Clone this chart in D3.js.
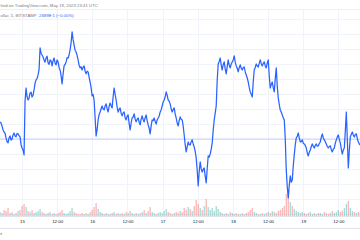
<!DOCTYPE html>
<html>
<head>
<meta charset="utf-8">
<script src="https://cdn.jsdelivr.net/npm/d3@7"></script>
<style>
  html, body { margin: 0; padding: 0; background: #fff; }
  svg { display: block; font-family: "Liberation Sans", Arial, sans-serif; }
</style>
</head>
<body>
<svg id="chart" width="360" height="240"></svg>
<script>
// BTC/USD, 5 min, BITSTAMP -- price read every 20.5 min, volume every 41 min, from May 14 16:30 UTC
var startTime = Date.UTC(2023, 4, 14, 16, 30);
var priceStepMin = 20.5;
var volumeStepMin = 41;

var prices = [
  27012, 27005, 26985, 26958, 26945, 26935, 26905, 26880, 26872, 26905, 26918, 26890, 26898, 26925, 26938, 26918, 26912, 26935, 26932, 26920,
  26912, 26860, 26838, 26825, 26792, 27150, 27238, 27180, 27158, 27170, 27205, 27210, 27178, 27190, 27225, 27270, 27292, 27300, 27325, 27360,
  27505, 27470, 27458, 27445, 27425, 27410, 27438, 27450, 27405, 27395, 27425, 27418, 27385, 27420, 27438, 27405, 27392, 27425, 27412, 27375,
  27358, 27320, 27265, 27330, 27385, 27395, 27412, 27440, 27438, 27460, 27492, 27540, 27612, 27560, 27525, 27490, 27478, 27455, 27425, 27390,
  27372, 27380, 27358, 27375, 27385, 27350, 27332, 27350, 27345, 27310, 27278, 27240, 27185, 27195, 27158, 27040, 26918, 26960, 27025, 27060,
  27078, 27100, 27118, 27098, 27092, 27118, 27132, 27100, 27078, 27115, 27138, 27120, 27105, 27180, 27238, 27195, 27158, 27110, 27078, 27095,
  27105, 27070, 27052, 27072, 27078, 27040, 27025, 27050, 27058, 27000, 26958, 27005, 27038, 27045, 27065, 27030, 27012, 27030, 27038, 27010,
  26992, 27030, 27052, 27028, 27012, 27040, 27058, 27020, 26992, 26970, 26932, 26985, 27025, 27020, 27038, 27015, 26998, 27025, 27038, 27050,
  27078, 27092, 27118, 27145, 27158, 27178, 27212, 27190, 27158, 27150, 27132, 27098, 27078, 27095, 27105, 27065, 27038, 27005, 26985, 27020,
  27045, 27030, 27025, 26985, 26925, 26860, 26812, 26845, 26878, 26860, 26858, 26880, 26892, 26865, 26845, 26815, 26772, 26690, 26585, 26680,
  26745, 26700, 26678, 26695, 26705, 26650, 26605, 26700, 26785, 26778, 26798, 26830, 26872, 26955, 27025, 27070, 27118, 27290, 27398, 27415,
  27438, 27390, 27358, 27395, 27412, 27365, 27332, 27380, 27425, 27390, 27372, 27398, 27412, 27425, 27452, 27410, 27385, 27370, 27345, 27375,
  27392, 27370, 27358, 27375, 27378, 27345, 27325, 27305, 27278, 27240, 27212, 27198, 27178, 27280, 27358, 27375, 27398, 27385, 27378, 27402,
  27425, 27400, 27385, 27402, 27412, 27385, 27372, 27405, 27425, 27320, 27238, 27262, 27278, 27240, 27212, 27300, 27372, 27250, 27172, 27128,
  27092, 27078, 27058, 27040, 27025, 26900, 26692, 26580, 26505, 26590, 26652, 26610, 26625, 26720, 26792, 26860, 26905, 26915, 26938, 26905,
  26878, 26880, 26892, 26870, 26865, 26855, 26838, 26805, 26785, 26810, 26825, 26848, 26865, 26850, 26838, 26855, 26865, 26850, 26852, 26868,
  26878, 26910, 26932, 26905, 26892, 26880, 26865, 26848, 26838, 26848, 26852, 26828, 26812, 26830, 26838, 26870, 26892, 26912, 26925, 26895,
  26872, 26830, 26798, 26825, 26838, 26950, 27078, 26900, 26705, 26820, 26912, 26930, 26945, 26925, 26912, 26928, 26932, 26900, 26878, 26865,
  26858
];

var volumes = [
  40, 30, 60, 50, 80, 30, 40, 20, 30, 50,
  60, 100, 120, 90, 50, 40, 60, 30, 40, 50,
  70, 40, 30, 20, 30, 40, 20, 30, 20, 30,
  40, 60, 30, 20, 30, 50, 80, 40, 30, 20,
  20, 30, 20, 30, 20, 40, 60, 90, 130, 70,
  40, 30, 20, 30, 20, 20, 30, 40, 20, 30,
  20, 30, 20, 40, 30, 50, 30, 20, 30, 20,
  30, 40, 60, 30, 50, 90, 40, 30, 20, 30,
  40, 30, 50, 70, 40, 30, 20, 30, 40, 30,
  50, 40, 80, 60, 90, 70, 50, 100, 160, 120,
  80, 60, 100, 170, 90, 60, 80, 50, 100, 70,
  40, 30, 20, 30, 20, 40, 30, 20, 30, 20,
  20, 30, 20, 30, 40, 60, 80, 40, 30, 20,
  20, 30, 20, 30, 40, 30, 50, 40, 30, 50,
  60, 80, 100, 220, 260, 140, 100, 70, 50, 40,
  30, 40, 30, 20, 30, 40, 20, 30, 20, 30,
  30, 20, 40, 30, 20, 30, 50, 30, 40, 60,
  40, 50, 80, 120, 150, 80, 50, 40, 30, 40,
  30
];

var tickTimes = [];
for (var d = 15; d <= 19; d++) {
  tickTimes.push(Date.UTC(2023, 4, d, 0));
  tickTimes.push(Date.UTC(2023, 4, d, 12));
}

// legend texts, as far as they show inside the cropped picture
var headerLine1 = "hed on TradingView.com, May 19, 2023 23:41 UTC";
var symbolText = "ollar, 5, BITSTAMP";
var lastText = "26898";
var changeText = "\u22121 (\u22120.00%)";
var lastPrice = 26898;

var priceData = prices.map(function (p, i) {
  return { t: new Date(startTime + i * priceStepMin * 60000), p: p };
});
var volData = volumes.map(function (v, i) {
  var p = prices[i * 2], prev = i === 0 ? p : prices[i * 2 - 2];
  return { t: new Date(startTime + i * volumeStepMin * 60000), v: v, up: p >= prev };
});

var svg = d3.select("#chart");

var x = d3.scaleUtc()
  .domain([new Date(Date.UTC(2023, 4, 15)), new Date(Date.UTC(2023, 4, 20))])
  .range([22, 373.5]);
var y = d3.scaleLinear().domain([26400, 27700]).range([213.7, 18.7]);
var vol = d3.scaleLinear().domain([0, 300]).range([0, 30]);

var paneTop = 9, paneBottom = 216;

// grid
var grid = svg.append("g");
grid.selectAll("line.v").data(tickTimes).enter().append("line")
  .attr("x1", d => Math.round(x(d)) + 0.5).attr("x2", d => Math.round(x(d)) + 0.5)
  .attr("y1", paneTop).attr("y2", paneBottom)
  .attr("stroke", "#f0f3fa").attr("stroke-width", 1);
grid.selectAll("line.h").data(d3.range(26400, 27701, 100)).enter().append("line")
  .attr("x1", 0).attr("x2", 360)
  .attr("y1", d => Math.round(y(d)) + 0.5).attr("y2", d => Math.round(y(d)) + 0.5)
  .attr("stroke", "#f0f3fa").attr("stroke-width", 1);

svg.append("line").attr("x1", 0).attr("x2", 360).attr("y1", paneTop + 0.5).attr("y2", paneTop + 0.5)
  .attr("stroke", "#eef0f5");

// volume
svg.append("g").selectAll("rect").data(volData).enter().append("rect")
  .attr("x", d => x(d.t) - 0.6)
  .attr("width", 1.2)
  .attr("y", d => paneBottom - vol(d.v))
  .attr("height", d => vol(d.v))
  .attr("fill", d => d.up ? "rgba(38,166,154,0.45)" : "rgba(239,83,80,0.45)");

// last price line
svg.append("line").attr("x1", 0).attr("x2", 360)
  .attr("y1", y(lastPrice)).attr("y2", y(lastPrice))
  .attr("stroke", "#2962ff").attr("stroke-opacity", 0.25).attr("stroke-width", 1);

// price line
var line = d3.line().x(d => x(d.t)).y(d => y(d.p));
svg.append("path").datum(priceData)
  .attr("d", line)
  .attr("fill", "none")
  .attr("stroke", "#2962ff")
  .attr("stroke-width", 1.25)
  .attr("stroke-linejoin", "round");

// time axis
svg.append("rect").attr("x", 0).attr("y", paneBottom).attr("width", 360).attr("height", 24).attr("fill", "#fff");
svg.append("line").attr("x1", 0).attr("x2", 360).attr("y1", paneBottom + 0.5).attr("y2", paneBottom + 0.5)
  .attr("stroke", "#e0e3eb");
var axis = d3.axisBottom(x)
  .tickValues(tickTimes.map(t => new Date(t)))
  .tickSize(0)
  .tickPadding(0)
  .tickFormat(d => d.getUTCHours() === 0 ? String(d.getUTCDate()) : "12:00");
var ax = svg.append("g").attr("transform", "translate(0," + (paneBottom + 4) + ")").call(axis);
ax.select(".domain").remove();
ax.selectAll("text").attr("font-size", 4.4).attr("fill", "#131722").attr("dy", "0.75em")
  .style("font-family", "'Liberation Sans', Arial, sans-serif");

svg.append("line").attr("x1", 0).attr("x2", 360).attr("y1", 228.5).attr("y2", 228.5).attr("stroke", "#e0e3eb");
svg.append("text").attr("x", 0.5).attr("y", 234.5).attr("font-size", 4.4).attr("fill", "#131722").text("r");

// header / legend
svg.append("text").attr("x", 0.5).attr("y", 6.5)
  .attr("font-size", 4.3).attr("fill", "#787b86").text(headerLine1);
svg.append("text").attr("x", 0.5).attr("y", 16.5)
  .attr("font-size", 4.3).attr("fill", "#787b86").text(symbolText);
svg.append("text").attr("x", 39).attr("y", 16.5)
  .attr("font-size", 4.3).attr("fill", "#2962ff").text(lastText);
svg.append("text").attr("x", 50).attr("y", 16.5)
  .attr("font-size", 4.3).attr("fill", "#2962ff").text(changeText);
</script>
</body>
</html>
